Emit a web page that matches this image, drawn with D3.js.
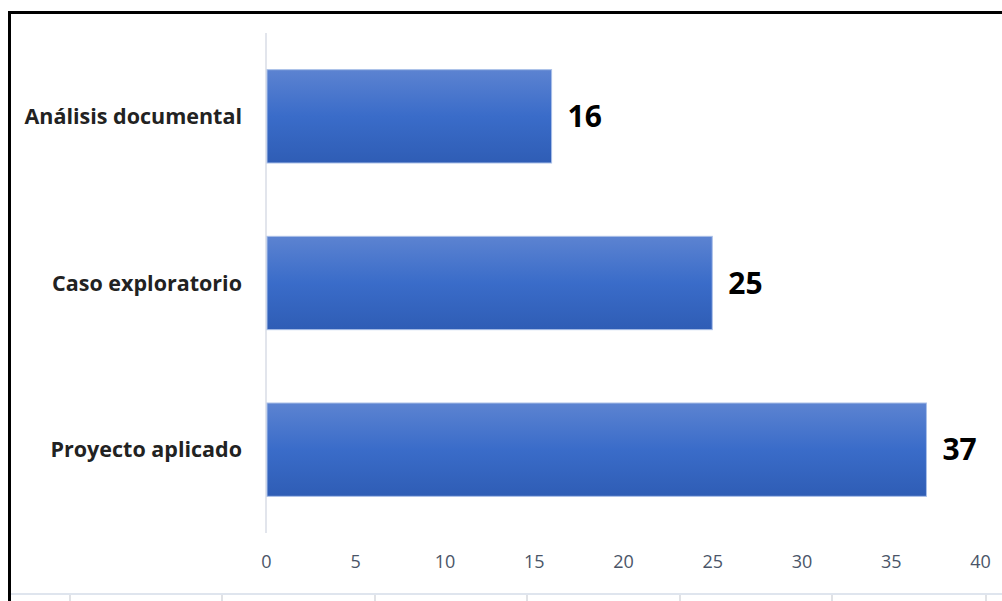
<!DOCTYPE html>
<html>
<head>
<meta charset="utf-8">
<script src="https://cdn.jsdelivr.net/npm/d3@7"></script>
<style>
  body { margin: 0; background: #fff; }
  svg { display: block; font-family: "Open Sans", "Noto Sans", sans-serif; }
</style>
</head>
<body>
<div id="vis-container"></div>
<script>
const categories = ["Análisis documental", "Caso exploratorio", "Proyecto aplicado"];
const values = [16, 25, 37];
const xTicks = [0, 5, 10, 15, 20, 25, 30, 35, 40];

const width = 1002;
const height = 601;
const margin = { top: 33, right: 22, bottom: 68, left: 266 };

const svg = d3.select("#vis-container")
    .append("svg")
    .attr("width", width)
    .attr("height", height);

// gradient for the bars
const grad = svg.append("defs").append("linearGradient")
    .attr("id", "barGrad")
    .attr("x1", 0).attr("y1", 0).attr("x2", 0).attr("y2", 1);
grad.append("stop").attr("offset", "0%").attr("stop-color", "#5c83d1");
grad.append("stop").attr("offset", "50%").attr("stop-color", "#3a6cc9");
grad.append("stop").attr("offset", "100%").attr("stop-color", "#2f5db5");

// frame around the chart
svg.append("line")
    .attr("x1", 9).attr("x2", width).attr("y1", 12.5).attr("y2", 12.5)
    .attr("stroke", "#000").attr("stroke-width", 3);
svg.append("line")
    .attr("x1", 9.5).attr("x2", 9.5).attr("y1", 11).attr("y2", height)
    .attr("stroke", "#000").attr("stroke-width", 3);

// faint table lines under the chart
svg.append("line")
    .attr("x1", 11).attr("x2", width).attr("y1", 594).attr("y2", 594)
    .attr("stroke", "#dfe5ee").attr("stroke-width", 2);
svg.append("g")
    .selectAll("line")
    .data([70, 222, 375, 527, 680, 832, 986])
    .enter()
    .append("line")
    .attr("x1", d => d).attr("x2", d => d)
    .attr("y1", 595).attr("y2", height)
    .attr("stroke", "#d6d9de").attr("stroke-width", 1.5);

// scales
const x = d3.scaleLinear()
    .domain([0, 40])
    .range([margin.left, width - margin.right]);

const y = d3.scaleBand()
    .domain(categories)
    .range([margin.top, height - margin.bottom])
    .paddingInner(0.44)
    .paddingOuter(0.22);

// x axis (labels only)
svg.append("g")
    .attr("transform", `translate(0,${height - margin.bottom})`)
    .call(d3.axisBottom(x).tickValues(xTicks).tickSize(0).tickPadding(22))
    .call(g => g.select(".domain").remove())
    .selectAll("text")
    .attr("font-size", "18px")
    .attr("fill", "#4a5568")
    .attr("font-family", "Open Sans, sans-serif");

// vertical category axis line
svg.append("line")
    .attr("x1", x(0)).attr("x2", x(0))
    .attr("y1", margin.top).attr("y2", height - margin.bottom)
    .attr("stroke", "#d9dde6").attr("stroke-width", 1.5);

// category labels
svg.append("g")
    .selectAll("text")
    .data(categories)
    .enter()
    .append("text")
    .attr("x", 242)
    .attr("y", d => y(d) + y.bandwidth() / 2)
    .attr("dy", "0.35em")
    .attr("text-anchor", "end")
    .attr("font-size", "21.5px")
    .attr("font-weight", "bold")
    .attr("fill", "#222")
    .text(d => d);

// bars
svg.append("g")
    .selectAll("rect")
    .data(values)
    .enter()
    .append("rect")
    .attr("x", x(0) + 1)
    .attr("y", (d, i) => y(categories[i]))
    .attr("width", d => x(d) - x(0) - 1)
    .attr("height", y.bandwidth())
    .attr("fill", "url(#barGrad)")
    .attr("stroke", "#a9bfe8")
    .attr("stroke-width", 1);

// value labels
svg.append("g")
    .selectAll("text")
    .data(values)
    .enter()
    .append("text")
    .attr("x", d => x(d) + 16)
    .attr("y", (d, i) => y(categories[i]) + y.bandwidth() / 2)
    .attr("dy", "0.35em")
    .attr("font-size", "30px")
    .attr("font-weight", "bold")
    .attr("fill", "#000")
    .text(d => d);
</script>
</body>
</html>
